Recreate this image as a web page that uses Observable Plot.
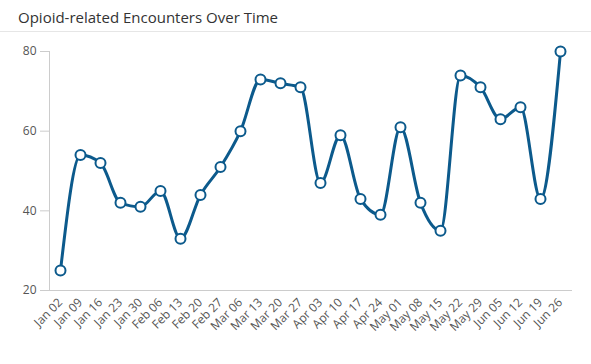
<!DOCTYPE html>
<html>
<head>
<meta charset="utf-8">
<script src="https://cdn.jsdelivr.net/npm/d3@7"></script>
<script src="https://cdn.jsdelivr.net/npm/@observablehq/plot@0.6"></script>
<style>
  html, body { margin: 0; padding: 0; background: #fff; }
  body { width: 591px; height: 364px; overflow: hidden; font-family: "Open Sans", sans-serif; }
  #title { height: 31px; border-bottom: 1px solid #e6e6e6; box-sizing: content-box; font-size: 15px; color: #333; padding-left: 18px; line-height: 34px; }
  #chart svg { display: block; }
</style>
</head>
<body>
<div id="title">Opioid-related Encounters Over Time</div>
<div id="chart"></div>
<script>
const weeks = ["Jan 02","Jan 09","Jan 16","Jan 23","Jan 30","Feb 06","Feb 13","Feb 20","Feb 27","Mar 06","Mar 13","Mar 20","Mar 27","Apr 03","Apr 10","Apr 17","Apr 24","May 01","May 08","May 15","May 22","May 29","Jun 05","Jun 12","Jun 19","Jun 26"];
const encounters = [25,54,52,42,41,45,33,44,51,60,73,72,71,47,59,43,39,61,42,35,74,71,63,66,43,80];
const yTicks = [20,40,60,80];

const data = weeks.map((w, i) => ({week: w, value: encounters[i]}));
const blue = "#0c5a8c";

const chart = Plot.plot({
  width: 591,
  height: 332,
  marginTop: 19,
  marginBottom: 74,
  marginLeft: 49,
  marginRight: 20,
  style: {fontFamily: "Open Sans, sans-serif", color: "#555", background: "#fff"},
  x: {type: "point", domain: weeks, padding: 0.5, label: null},
  y: {domain: [20, 80], label: null},
  marks: [
    Plot.axisY({ticks: yTicks, tickSize: 9, tickPadding: 4, fontSize: 12, stroke: "#ccc", fill: "#555"}),
    Plot.axisX({tickSize: 0, tickPadding: 10, tickRotate: -45, fontSize: 12, fill: "#555"}),
    Plot.frame({anchor: "left", stroke: "#ccc"}),
    Plot.frame({anchor: "bottom", stroke: "#ccc"}),
    Plot.line(data, {x: "week", y: "value", stroke: blue, strokeWidth: 3, curve: "monotone-x"}),
    Plot.dot(data, {x: "week", y: "value", r: 5, fill: "#fff", stroke: blue, strokeWidth: 2})
  ]
});
document.getElementById("chart").appendChild(chart);
</script>
</body>
</html>
